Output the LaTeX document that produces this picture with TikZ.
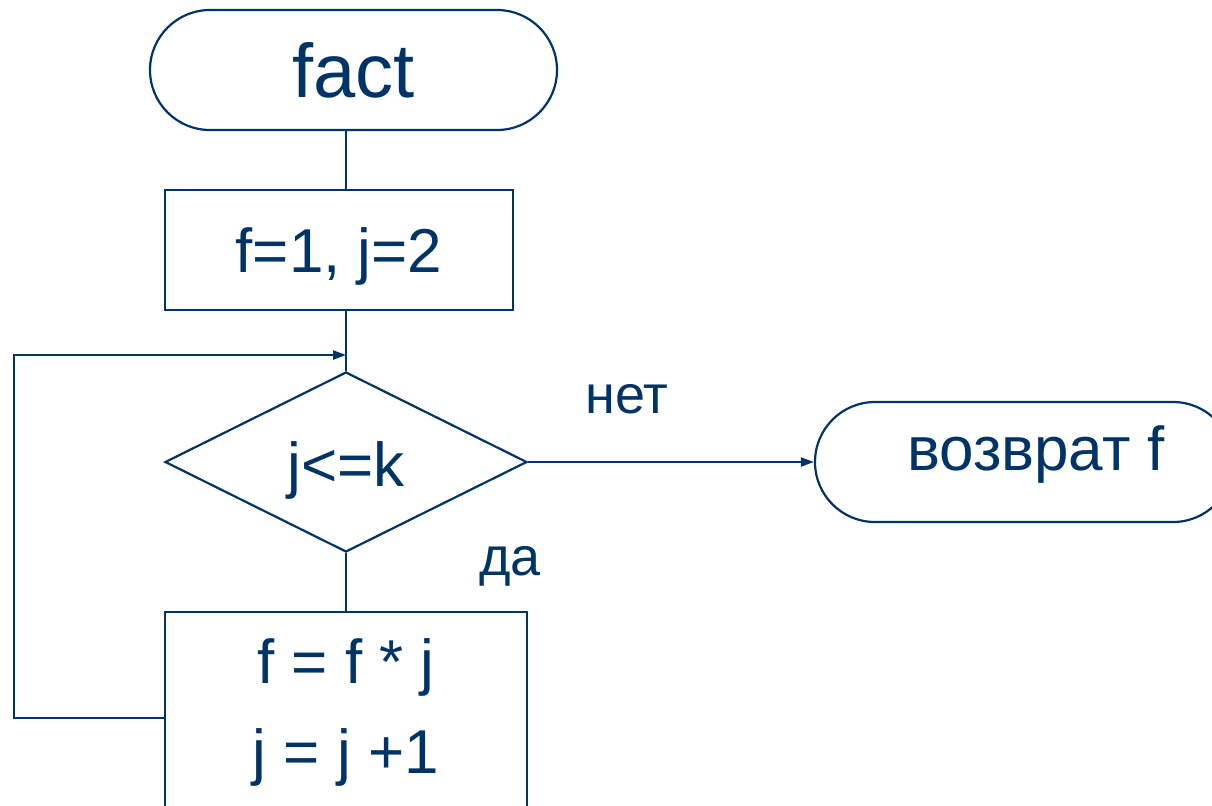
\documentclass[tikz,border=0pt]{standalone}
\usepackage{fontspec}
\setmainfont{Liberation Sans}
\usetikzlibrary{shapes.geometric,shapes.misc,arrows.meta}
\definecolor{navy}{RGB}{0,51,102}
\newcommand{\lift}[2]{\raisebox{#1}[\height][\depth]{#2}}

\begin{document}
\begin{tikzpicture}[x=0.5pt,y=0.5pt,color=navy,line width=1.1pt,
  every node/.style={font=\fontsize{31}{45}\selectfont},
  terminal/.style={rounded rectangle,draw,minimum height=60pt,inner sep=0pt},
  process/.style={rectangle,draw,inner sep=0pt,align=center},
  decision/.style={diamond,draw,minimum width=181pt,minimum height=90pt,inner sep=0pt},
  answer/.style={font=\fontsize{27}{32}\selectfont},
  flow/.style={-{Triangle[length=6.5pt,width=4.5pt]}}]
\useasboundingbox (0,0) rectangle (1212,-805);
\clip (0,0) rectangle (1212,-805);
\node [terminal,minimum width=203.5pt,font=\fontsize{38}{45}\selectfont] (start) at (353.5,-70) {fact};
\node [process,minimum width=174pt,minimum height=60pt] (init) at (339,-250) {\lift{-3pt}{f=1, j=2}};
\node [decision] (cond) at (346,-462) {\lift{-4pt}{j<=k}};
\node [process,minimum width=181pt,minimum height=100pt] (body) at (346,-712) {f = f * j\\j = j +1};
\node [terminal,minimum width=209pt] (stop) at (1024,-462) {\lift{4pt}{\hspace{12pt}возврат f}};
\node [answer] (no) at (627,-399) {нет};
\node [answer] (yes) at (510,-566) {да};
\coordinate (loopbot) at (14,-718);
\coordinate (looptop) at (14,-355);
\draw (start.south -| cond) -- (init.north -| cond);
\draw (init.south -| cond) -- (cond.north);
\draw (cond.south) -- (body.north);
\draw [flow] (cond.east) -- (stop.west);
\draw [flow] (body.west |- loopbot) -- (loopbot) -- (looptop) -- (looptop -| cond.north);
\end{tikzpicture}
\end{document}
